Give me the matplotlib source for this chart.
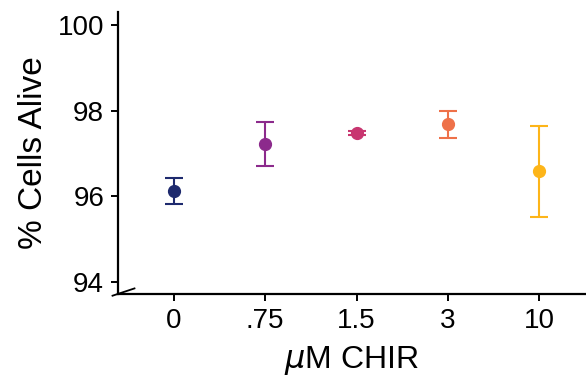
import matplotlib.pyplot as plt

# Values
doses = ["0", ".75", "1.5", "3", "10"]
alive = [96.12, 97.22, 97.47, 97.68, 96.58]
err = [0.31, 0.51, 0.05, 0.31, 1.06]
colors = ["#1e2a6e", "#8c2a8c", "#c83670", "#ee7149", "#fdb519"]
yticks = [94, 96, 98, 100]

plt.rcParams["font.family"] = ["Liberation Sans", "DejaVu Sans"]

fig = plt.figure(figsize=(5.86, 3.83), dpi=100)
ax = fig.add_axes([0.2014, 0.2324, 0.7986, 0.7363])

for i, (m, e, c) in enumerate(zip(alive, err, colors)):
    ax.errorbar(i, m, yerr=e, fmt="o", color=c, ms=8.5, capsize=6.8,
                elinewidth=1.5, capthick=1.5)

ax.set_xlim(-0.61, 4.51)
ax.set_ylim(93.72, 100.3)
ax.set_xticks(range(len(doses)))
ax.set_xticklabels(doses)
ax.set_yticks(yticks)

ax.spines["top"].set_visible(False)
ax.spines["right"].set_visible(False)
for s in ["left", "bottom"]:
    ax.spines[s].set_linewidth(1.6)
ax.tick_params(labelsize=20, width=1.4, length=5, pad=5)

ax.set_ylabel("% Cells Alive", fontsize=24, labelpad=6)
ax.set_xlabel(r"$\mu$M CHIR", fontsize=23, labelpad=7)

# axis break mark on the y axis
ax.plot([-0.67, -0.43], [93.68, 93.85], color="black", lw=1.3,
        clip_on=False)

fig.savefig("out.png", dpi=100)
